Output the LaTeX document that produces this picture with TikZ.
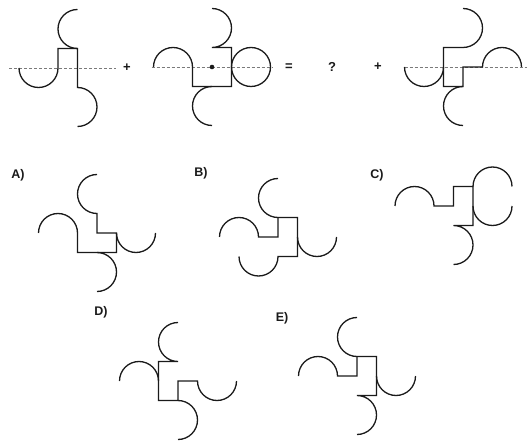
\documentclass[tikz,border=0pt]{standalone}
\usepackage{fontspec}
\setmainfont{Liberation Sans}
\usepackage{tikz}
\definecolor{InkDark}{HTML}{1A1A1A}
\definecolor{AxisGray}{HTML}{7A7A7A}

\begin{document}
\begin{tikzpicture}[
  x=1pt, y=-1pt,
  piece/.style={draw=InkDark, line width=1.3pt, line join=miter},
  axis/.style={draw=AxisGray, line width=0.7pt, dash pattern=on 3pt off 2pt},
  lbl/.style={font=\fontsize{12.5}{14}\selectfont\bfseries, text=InkDark, inner sep=0pt},
  op/.style={font=\fontsize{13}{15}\selectfont\bfseries, text=InkDark, inner sep=0pt}
]
  \useasboundingbox (0,0) rectangle (532,443);

  \begin{scope}[shift={(58,68)}, x=19.5pt, y=19.5pt]
    \draw[axis] (-2.5,0) -- (2.95,0);
    \draw[piece] (-2,0) arc[start angle=180, end angle=360, radius=1] -- (0,1) -- (1,1) -- (1,-1) arc[start angle=90, end angle=-90, radius=1];
    \draw[piece] (1,1) arc[start angle=-90, end angle=-270, radius=1];
  \end{scope}

  \node[op] (plusL) at (127,68) {+};

  \begin{scope}[shift={(212,67)}, x=19.5pt, y=19.5pt]
    \draw[axis] (-3.1,0) -- (3.15,0);
    \draw[piece] (-3,0) arc[start angle=180, end angle=0, radius=1] -- (-1,-1) -- (1,-1) -- (1,1) -- (0,1) arc[start angle=-90, end angle=90, radius=1];
    \draw[piece] (0,-1) arc[start angle=90, end angle=270, radius=1];
    \draw[piece] (2,0) circle[radius=1];
    \fill[InkDark] (0,0) circle[radius=2.3pt];
  \end{scope}

  \node[op] (equals) at (289,67) {=};
  \node[op] (unknown) at (332,67) {?};
  \node[op] (plusR) at (378,67) {+};

  \begin{scope}[shift={(463,67)}, x=19.5pt, y=19.5pt]
    \draw[axis] (-3,0) -- (3.3,0);
    \draw[piece] (0,3) arc[start angle=90, end angle=-90, radius=1] -- (-1,1) -- (-1,-1) -- (0,-1) -- (0,0) -- (1,0) arc[start angle=180, end angle=0, radius=1];
    \draw[piece] (-1,0) arc[start angle=0, end angle=-180, radius=1];
    \draw[piece] (0,-1) arc[start angle=90, end angle=270, radius=1];
  \end{scope}

  \node[lbl] (labA) at (18,175) {A)};
  \begin{scope}[shift={(97,233)}, x=19.5pt, y=19.5pt]
    \draw[piece] (0,3) arc[start angle=90, end angle=270, radius=1] -- (0,0) -- (1,0) -- (1,-1) -- (-1,-1) -- (-1,0) arc[start angle=0, end angle=180, radius=1];
    \draw[piece] (1,0) arc[start angle=180, end angle=360, radius=1];
    \draw[piece] (0,-1) arc[start angle=90, end angle=-90, radius=1];
  \end{scope}

  \node[lbl] (labB) at (201,173) {B)};
  \begin{scope}[shift={(278,237)}, x=19.5pt, y=19.5pt]
    \draw[piece] (0,3) arc[start angle=90, end angle=270, radius=1] -- (1,1) -- (1,-1) -- (0,-1) arc[start angle=0, end angle=-180, radius=1];
    \draw[piece] (0,1) -- (0,0) -- (-1,0) arc[start angle=0, end angle=180, radius=1];
    \draw[piece] (1,0) arc[start angle=180, end angle=360, radius=1];
  \end{scope}

  \node[lbl] (labC) at (377,175) {C)};
  \begin{scope}[shift={(473,206)}, x=19.5pt, y=19.5pt]
    \draw[piece] (-4,0) arc[start angle=180, end angle=0, radius=1] -- (-1,0) -- (-1,1) -- (0,1) -- (0,-1) -- (-1,-1) arc[start angle=90, end angle=-90, radius=1];
    \draw[piece] (0,1) arc[start angle=180, end angle=0, radius=1];
    \draw[piece] (0,0) arc[start angle=180, end angle=360, radius=1];
  \end{scope}

  \node[lbl] (labD) at (101,312) {D)};
  \begin{scope}[shift={(178,381)}, x=19.5pt, y=19.5pt]
    \draw[piece] (0,3) arc[start angle=90, end angle=270, radius=1] -- (-1,1) -- (-1,-1) -- (0,-1) -- (0,0) -- (1,0) arc[start angle=180, end angle=360, radius=1];
    \draw[piece] (-1,0) arc[start angle=0, end angle=180, radius=1];
    \draw[piece] (0,-1) arc[start angle=90, end angle=-90, radius=1];
  \end{scope}

  \node[lbl] (labE) at (282,318) {E)};
  \begin{scope}[shift={(357,376)}, x=19.5pt, y=19.5pt]
    \draw[piece] (0,3) arc[start angle=90, end angle=270, radius=1] -- (1,1) -- (1,-1) -- (0,-1) arc[start angle=90, end angle=-90, radius=1];
    \draw[piece] (0,1) -- (0,0) -- (-1,0) arc[start angle=0, end angle=180, radius=1];
    \draw[piece] (1,0) arc[start angle=180, end angle=360, radius=1];
  \end{scope}
\end{tikzpicture}
\end{document}
